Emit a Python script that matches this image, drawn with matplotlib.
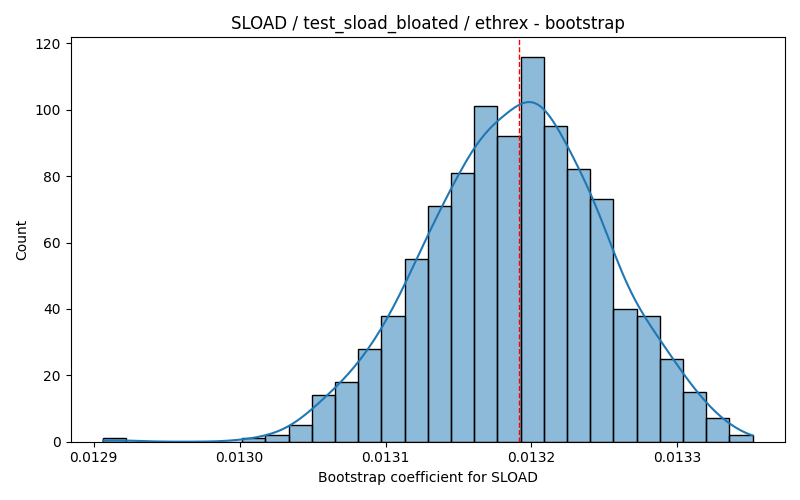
import matplotlib
matplotlib.use("Agg")
import matplotlib.pyplot as plt
import numpy as np
import seaborn as sns

# histogram: 28 equal bins between min and max sample
x_min = 0.0129064
x_max = 0.0133515
counts = [1, 0, 0, 0, 0, 0, 1, 2, 5, 14, 18, 28, 38, 55, 71, 81,
          101, 92, 116, 95, 82, 73, 40, 38, 25, 15, 7, 2]
point_estimate = 0.0131911

edges = np.linspace(x_min, x_max, len(counts) + 1)
centers = (edges[:-1] + edges[1:]) / 2

# weighted kde would use n_eff ~ 13 -> force scott factor for n = sum(counts)
bw = sum(counts) ** (-1 / 5)

fig, ax = plt.subplots(figsize=(8, 5))
# bins as a list: seaborn compares bins with "auto" when weights are given
sns.histplot(x=centers, weights=counts, bins=edges.tolist(), kde=True, ax=ax,
             kde_kws={"bw_method": bw, "cut": 3, "clip": (x_min, x_max)})
ax.axvline(point_estimate, color="red", ls="--", lw=1)
ax.set_title("SLOAD / test_sload_bloated / ethrex - bootstrap")
ax.set_xlabel("Bootstrap coefficient for SLOAD")
ax.set_ylabel("Count")
fig.tight_layout()
fig.savefig("out.png", dpi=100)
plt.close(fig)
